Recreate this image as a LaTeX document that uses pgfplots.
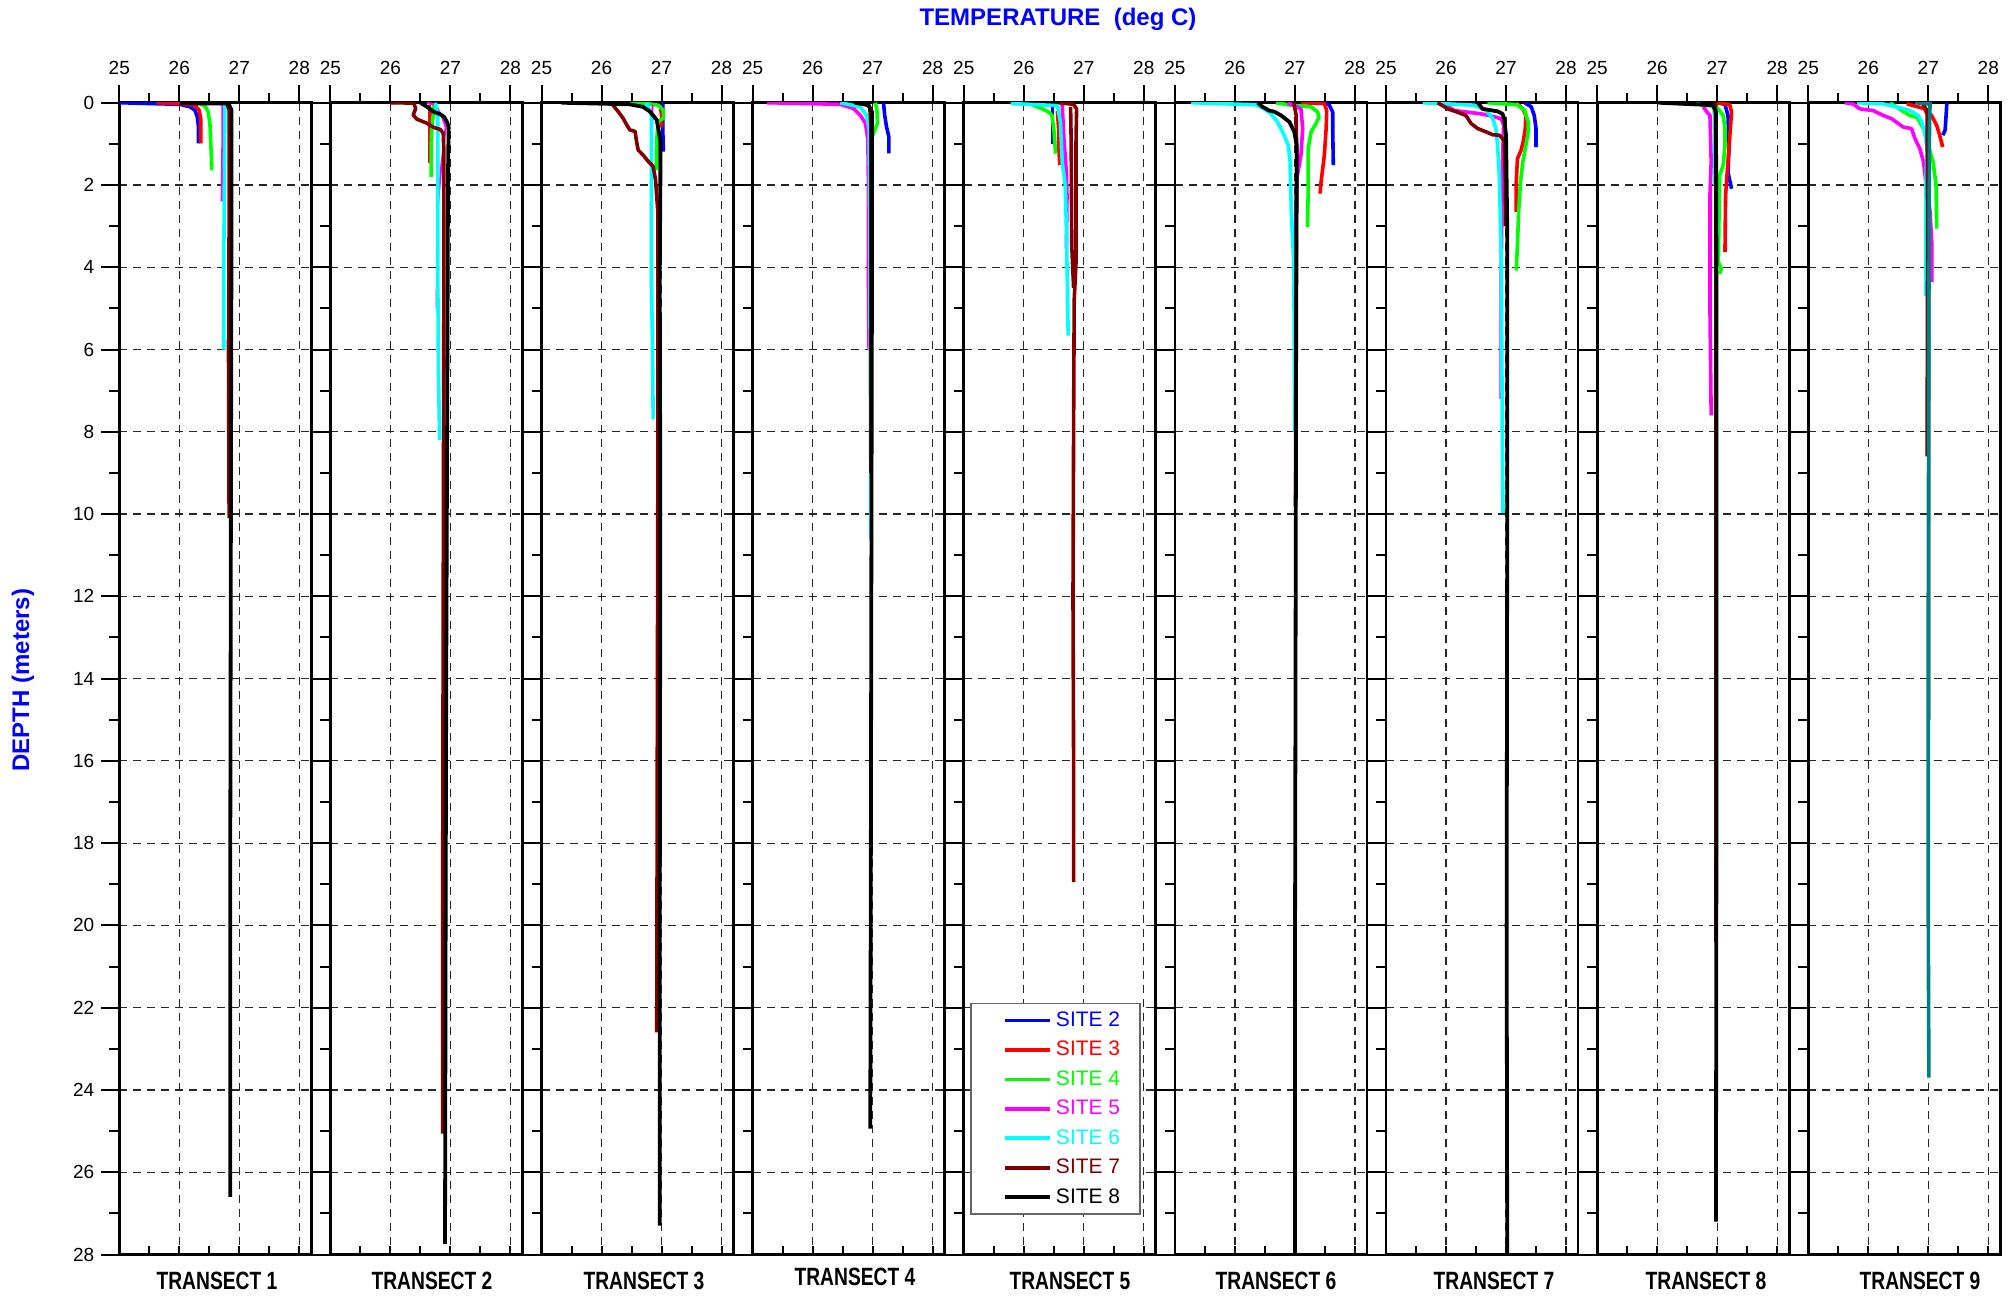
\documentclass[border=0pt]{standalone}
\usepackage{pgfplots}
\pgfplotsset{compat=1.18}
\usepackage{fontspec}
\setmainfont{Liberation Sans}
\definecolor{c2}{RGB}{0,0,255}
\definecolor{c3}{RGB}{255,0,0}
\definecolor{c4}{RGB}{0,255,0}
\definecolor{c5}{RGB}{255,0,255}
\definecolor{c6}{RGB}{0,255,255}
\definecolor{c7}{RGB}{128,0,0}
\definecolor{tealc}{RGB}{0,128,128}
\pgfplotsset{
  s2/.style={color=c2, line width=1.8pt, line join=round},
  s3/.style={color=c3, line width=1.8pt, line join=round},
  s4/.style={color=c4, line width=1.8pt, line join=round},
  s5/.style={color=c5, line width=1.8pt, line join=round},
  s6/.style={color=c6, line width=1.8pt, line join=round},
  s7/.style={color=c7, line width=1.8pt, line join=round},
  s8/.style={color=black, line width=1.9pt, line join=round},
  panel/.style={
    at={(#1,20.75pt)}, anchor=south west, scale only axis,
    width=96pt, height=575.9pt,
    xmin=25, xmax=28.2, ymin=0, ymax=28, y dir=reverse,
    xtick={25,26,27,28}, minor xtick={25.5,26.5,27.5},
    ytick={0,2,...,28}, minor ytick={1,3,...,27},
    xtick pos=right, xticklabel pos=right, ytick pos=left,
    tick align=outside,
    major tick length=9pt, minor tick length=5pt,
    tick style={line width=1pt, black},
    axis line style={line width=1.4pt},
    grid=major,
    major grid style={black!85, line width=0.6pt, dash pattern=on 4pt off 3pt},
    yticklabels={},
    /pgf/number format/assume math mode=true,
    ticklabel style={font=\fontsize{9.5}{11}\selectfont},
    xticklabel style={yshift=1.5pt},
  },
  bticks/.style={
    at={(#1,20.75pt)}, anchor=south west, scale only axis,
    width=96pt, height=575.9pt,
    xmin=25, xmax=28.2, ymin=0, ymax=28,
    axis line style={draw=none},
    xtick={25.5,26,...,28}, xtick pos=left, tick align=inside,
    xticklabels={}, ytick=\empty,
    major tick length=4.5pt, tick style={line width=1pt, black},
  },
}
\begin{document}
\begin{tikzpicture}
\useasboundingbox (0,0) rectangle (1005.5pt,648pt);

% ---------------- TRANSECT 1
\begin{axis}[bticks=59.65pt]\end{axis}
\begin{axis}[panel=59.65pt, yticklabels={0,2,4,6,8,10,12,14,16,18,20,22,24,26,28}]
\addplot[s2] coordinates {(25.0,0) (26.01,0.04) (26.18,0.1) (26.26,0.18) (26.30,0.34) (26.32,0.6) (26.32,0.99)};
\addplot[s3] coordinates {(25.62,0) (26.0,0.02) (26.26,0.06) (26.33,0.18) (26.36,0.42) (26.36,0.99)};
\addplot[s4] coordinates {(26.35,0.03) (26.43,0.08) (26.48,0.22) (26.51,0.5) (26.53,1.15) (26.54,1.64)};
\addplot[s5] coordinates {(26.70,0.02) (26.73,0.06) (26.73,1.0) (26.72,2.4)};
\addplot[s6] coordinates {(26.74,0.03) (26.76,0.1) (26.75,2.0) (26.74,4.3) (26.74,6.0)};
\addplot[s7] coordinates {(26.79,0) (26.83,0.18) (26.83,3) (26.82,6) (26.83,10.1)};
\addplot[s8] coordinates {(26.01,0.01) (26.5,0.02) (26.82,0.02) (26.87,0.18) (26.87,3) (26.86,10) (26.85,18) (26.85,26.6)};
\end{axis}

% ---------------- TRANSECT 2
\begin{axis}[bticks=165.21pt]\end{axis}
\begin{axis}[panel=165.21pt]
\addplot[s3] coordinates {(26.64,0.05) (26.66,0.2) (26.66,0.8) (26.66,1.47)};
\addplot[s4] coordinates {(26.72,0.05) (26.72,0.22) (26.69,0.6) (26.68,1.0) (26.68,1.8)};
\addplot[s5, line width=1pt] coordinates {(26.61,0) (26.75,0.05) (26.86,0.34) (26.92,0.6) (26.85,1.5) (26.78,2.7) (26.77,5.0)};
\addplot[s6] coordinates {(26.75,0) (26.79,0.34) (26.79,2) (26.79,4.3) (26.8,6.5) (26.82,8.2)};
\addplot[s7] coordinates {(26.0,0) (26.39,0.01) (26.42,0.14) (26.38,0.3) (26.44,0.4) (26.61,0.5) (26.72,0.6) (26.83,0.65) (26.88,0.74) (26.89,1.15) (26.89,5) (26.88,12) (26.87,20) (26.87,25.06)};
\addplot[s8] coordinates {(26.5,0) (26.61,0.1) (26.72,0.22) (26.83,0.28) (26.89,0.34) (26.94,0.46) (26.97,0.58) (26.96,1.72) (26.95,6) (26.93,14) (26.92,20) (26.91,27.74)};
\end{axis}

% ---------------- TRANSECT 3
\begin{axis}[bticks=270.77pt]\end{axis}
\begin{axis}[panel=270.77pt]
\addplot[s2] coordinates {(27.02,0) (27.02,0.6) (27.03,1.19)};
\addplot[s3] coordinates {(26.96,0.05) (26.98,0.1) (27.0,0.3) (27.0,0.6)};
\addplot[s4] coordinates {(26.47,0) (26.8,0.03) (26.94,0.06) (27.03,0.18) (27.03,0.38) (26.94,0.46) (26.92,0.91) (26.91,1.64)};
\addplot[s5, line width=1pt] coordinates {(26.85,0.05) (26.84,1.0) (26.82,2.77) (26.82,4.8)};
\addplot[s6] coordinates {(26.75,0) (26.83,0.3) (26.83,2) (26.83,4.15) (26.85,6) (26.86,7.7)};
\addplot[s7] coordinates {(26.19,0.06) (26.28,0.22) (26.36,0.38) (26.42,0.54) (26.47,0.66) (26.56,0.7) (26.58,0.91) (26.61,1.15) (26.69,1.27) (26.78,1.43) (26.86,1.55) (26.90,1.88) (26.94,2.69) (26.94,3.34) (26.94,8) (26.93,15) (26.92,22.6)};
\addplot[s8] coordinates {(25.33,0) (26.47,0.04) (26.69,0.1) (26.81,0.22) (26.92,0.42) (26.98,0.91) (26.98,2) (26.97,4.15) (26.98,10) (26.97,20) (26.97,27.3)};
\end{axis}

% ---------------- TRANSECT 4
\begin{axis}[bticks=376.33pt]\end{axis}
\begin{axis}[panel=376.33pt]
\addplot[s2] coordinates {(27.18,0) (27.20,0.3) (27.23,0.58) (27.27,0.83) (27.27,1.23)};
\addplot[s4] coordinates {(27.04,0) (27.07,0.15) (27.08,0.5) (26.99,0.83) (26.96,1.72) (26.95,2.5)};
\addplot[s5] coordinates {(25.24,0) (26.46,0.04) (26.68,0.14) (26.79,0.3) (26.88,0.5) (26.92,0.91) (26.93,2.12) (26.93,4.3) (26.94,6)};
\addplot[s6] coordinates {(26.46,0) (26.79,0.1) (26.90,0.31) (26.94,0.63) (26.95,3) (26.96,7) (26.97,10.6)};
\addplot[s7] coordinates {(26.85,0) (26.95,0.1) (26.97,0.5) (26.97,4) (26.97,9)};
\addplot[s8] coordinates {(26.7,0) (26.93,0.06) (26.99,0.23) (26.99,3) (26.98,10) (26.97,18) (26.96,24.94)};
\end{axis}

% ---------------- TRANSECT 5 (with legend)
\begin{axis}[bticks=481.89pt]\end{axis}
\begin{axis}[panel=481.89pt,
  legend cell align=left,
  legend image code/.code={\path (0pt,0pt); \draw[#1] (8pt,0pt) -- (30.5pt,0pt);},
  legend style={draw=black!60, line width=0.8pt, fill=white,
    font=\fontsize{10.5}{12}\selectfont,
    at={(axis cs:25.11,21.88)}, anchor=north west,
    inner xsep=8pt, inner ysep=2pt, row sep=1.9pt,
    /tikz/every even column/.append style={column sep=7pt}},
]
\addlegendimage{s2}\addlegendentry{\textcolor{c2}{SITE 2}}
\addlegendimage{s3}\addlegendentry{\textcolor{c3}{SITE 3}}
\addlegendimage{s4}\addlegendentry{\textcolor{c4}{SITE 4}}
\addlegendimage{s5}\addlegendentry{\textcolor{c5}{SITE 5}}
\addlegendimage{s6}\addlegendentry{\textcolor{c6}{SITE 6}}
\addlegendimage{s7}\addlegendentry{\textcolor{c7}{SITE 7}}
\addlegendimage{s8}\addlegendentry{\textcolor{black}{SITE 8}}
\addplot[s2, forget plot] coordinates {(26.48,0.05) (26.48,0.5) (26.48,1.0)};
\addplot[s3, forget plot] coordinates {(26.56,0.2) (26.58,0.63) (26.58,1.0) (26.60,1.52)};
\addplot[s4, forget plot] coordinates {(26.14,0.05) (26.31,0.15) (26.42,0.23) (26.47,0.31) (26.50,0.63) (26.53,1.24)};
\addplot[s5, forget plot] coordinates {(26.64,0.05) (26.67,0.9) (26.71,1.7) (26.72,2.25) (26.71,3.55)};
\addplot[s6, forget plot] coordinates {(25.78,0.02) (26.25,0.05) (26.56,0.07) (26.61,0.47) (26.64,1.44) (26.69,2.0) (26.71,3.06) (26.74,5.66)};
\addplot[s7, forget plot] coordinates {(26.58,0) (26.83,0.04) (26.88,0.15) (26.87,1) (26.87,3.9) (26.84,4.8) (26.83,8) (26.82,12) (26.83,16) (26.83,18.95)};
\addplot[s7, forget plot] coordinates {(26.78,0.1) (26.79,1) (26.80,3.5) (26.83,4.5)};
\end{axis}

% ---------------- TRANSECT 6
\begin{axis}[bticks=587.45pt]\end{axis}
\begin{axis}[panel=587.45pt]
\addplot[s2] coordinates {(27.49,0) (27.57,0.05) (27.63,0.23) (27.63,0.63) (27.64,1.52)};
\addplot[s3] coordinates {(27.10,0) (27.49,0.02) (27.53,0.19) (27.52,0.63) (27.49,1.28) (27.43,2.0) (27.42,2.21)};
\addplot[s4] coordinates {(26.68,0) (26.93,0.06) (27.27,0.1) (27.38,0.23) (27.40,0.35) (27.35,0.51) (27.27,0.71) (27.22,1.12) (27.22,2.25) (27.21,3.02)};
\addplot[s5] coordinates {(26.88,0) (27.10,0.15) (27.13,0.63) (27.10,1.28) (27.03,1.85) (26.98,4.5)};
\addplot[s6] coordinates {(25.27,0) (26.35,0.05) (26.49,0.15) (26.60,0.27) (26.71,0.47) (26.82,0.79) (26.89,1.04) (26.92,1.44) (26.94,2.66) (26.98,3.87) (26.99,6) (27.0,8)};
\addplot[s7] coordinates {(26.98,0) (27.02,0.3) (27.03,1.3) (27.02,4) (27.01,9.8)};
\addplot[s8] coordinates {(26.38,0) (26.46,0.1) (26.57,0.19) (26.66,0.22) (26.77,0.31) (26.91,0.47) (26.99,0.71) (27.03,1.04) (27.03,1.85) (27.02,6) (27.01,14) (27.0,22) (27.0,28)};
\end{axis}

% ---------------- TRANSECT 7
\begin{axis}[bticks=693.01pt]\end{axis}
\begin{axis}[panel=693.01pt]
\addplot[s2] coordinates {(27.31,0) (27.42,0.1) (27.47,0.31) (27.50,0.63) (27.50,1.08)};
\addplot[s3] coordinates {(27.17,0) (27.28,0.15) (27.33,0.31) (27.32,0.63) (27.29,0.92) (27.25,1.16) (27.19,1.36) (27.17,1.93) (27.17,2.66)};
\addplot[s4] coordinates {(26.69,0) (27.19,0.05) (27.31,0.19) (27.37,0.47) (27.37,0.71) (27.33,1.04) (27.28,1.44) (27.24,1.93) (27.21,2.66) (27.19,3.47) (27.17,4.08)};
\addplot[s5] coordinates {(25.92,0) (26.14,0.19) (26.58,0.27) (26.72,0.31) (26.92,0.39) (26.96,0.55) (26.94,1.44) (26.92,4) (26.92,7.2)};
\addplot[s6] coordinates {(25.61,0) (26.47,0.06) (26.67,0.19) (26.78,0.39) (26.83,0.63) (26.86,1.04) (26.89,1.85) (26.92,3.87) (26.94,8.6) (26.95,9.97)};
\addplot[s7] coordinates {(25.86,0) (26.03,0.15) (26.19,0.23) (26.33,0.31) (26.42,0.51) (26.53,0.63) (26.67,0.71) (26.78,0.78) (26.89,0.79) (26.97,0.92) (26.99,2) (26.99,3)};
\addplot[s8] coordinates {(26.53,0) (26.61,0.15) (26.86,0.21) (26.94,0.27) (26.97,0.39) (27.0,0.8) (27.02,3.06) (27.02,10) (27.01,20) (27.02,28)};
\end{axis}

% ---------------- TRANSECT 8
\begin{axis}[bticks=798.57pt]\end{axis}
\begin{axis}[panel=798.57pt]
\addplot[s2] coordinates {(27.02,0) (27.13,0.04) (27.18,0.31) (27.20,1.04) (27.18,1.69) (27.24,2.09)};
\addplot[s3] coordinates {(26.99,0) (27.21,0.05) (27.24,0.23) (27.22,0.63) (27.18,1.44) (27.14,2.25) (27.13,3.63)};
\addplot[s4] coordinates {(26.66,0.03) (26.99,0.1) (27.10,0.31) (27.13,0.63) (27.13,1.04) (27.10,1.52) (27.04,1.77) (27.02,3.87) (27.07,4.04) (27.04,4.16)};
\addplot[s5] coordinates {(26.77,0.1) (26.83,0.23) (26.88,0.31) (26.90,1.44) (26.88,2.25) (26.88,5) (26.90,7.6)};
\addplot[s6] coordinates {(26.95,0.05) (26.96,1.0) (26.96,2.0)};
\addplot[s7] coordinates {(26.97,0) (26.98,1) (26.98,10) (26.98,20.4)};
\addplot[s8] coordinates {(26.02,0) (26.93,0.06) (26.98,0.23) (26.99,5) (26.99,15) (26.98,27.2)};
\end{axis}

% ---------------- TRANSECT 9
\begin{axis}[bticks=904.13pt]\end{axis}
\begin{axis}[panel=904.13pt]
\addplot[s2] coordinates {(27.31,0) (27.29,0.47) (27.28,0.67) (27.24,0.79)};
\addplot[s3] coordinates {(26.64,0.03) (26.83,0.1) (26.94,0.15) (26.97,0.25) (27.05,0.3) (27.14,0.55) (27.19,0.79) (27.24,1.08)};
\addplot[s4] coordinates {(26.36,0) (26.56,0.19) (26.69,0.31) (26.81,0.35) (26.92,0.63) (27.0,1.04) (27.08,1.44) (27.13,2.0) (27.14,3.06)};
\addplot[s5] coordinates {(25.61,0) (25.75,0.03) (25.86,0.15) (26.08,0.19) (26.25,0.31) (26.39,0.39) (26.58,0.59) (26.72,0.63) (26.78,0.88) (26.86,1.12) (26.92,1.44) (26.96,1.93) (27.03,2.66) (27.06,3.47) (27.06,4.36)};
\addplot[s6] coordinates {(25.81,0) (26.25,0.03) (26.47,0.1) (26.69,0.19) (26.83,0.31) (26.89,0.47) (26.94,0.71) (26.98,1.12) (26.96,2.0) (26.96,4.7)};
\addplot[s7] coordinates {(26.9,0) (26.98,0.2) (26.99,3) (26.98,8.6)};
\addplot[s8, line width=1pt] coordinates {(26.9,0) (27.02,0.05) (27.02,5) (27.02,15)};
\addplot[color=tealc, line width=1.8pt] coordinates {(26.78,0) (27.03,0.03) (27.02,0.5) (27.01,5) (27.0,12) (27.0,20) (27.01,23.7)};
\end{axis}

% ---------------- titles
\node[font=\bfseries\fontsize{12}{14}\selectfont, text=c2] at (529pt,638.4pt) {TEMPERATURE\ \ (deg C)};
\node[font=\bfseries\fontsize{12}{14}\selectfont, text=c2, rotate=90] at (11.5pt,308pt) {DEPTH (meters)};
\foreach \xx/\yy/\nn in {108.5/7.5/1, 216/7.5/2, 322/7.5/3, 427.5/9.5/4, 535/7.5/5, 638/7.5/6, 747/7.5/7, 853/7.5/8, 960/7.5/9}
  \node[font=\bfseries\fontsize{12.5}{14}\selectfont] at (\xx pt,\yy pt) {\scalebox{0.77}[1]{TRANSECT \nn}};
\end{tikzpicture}
\end{document}
